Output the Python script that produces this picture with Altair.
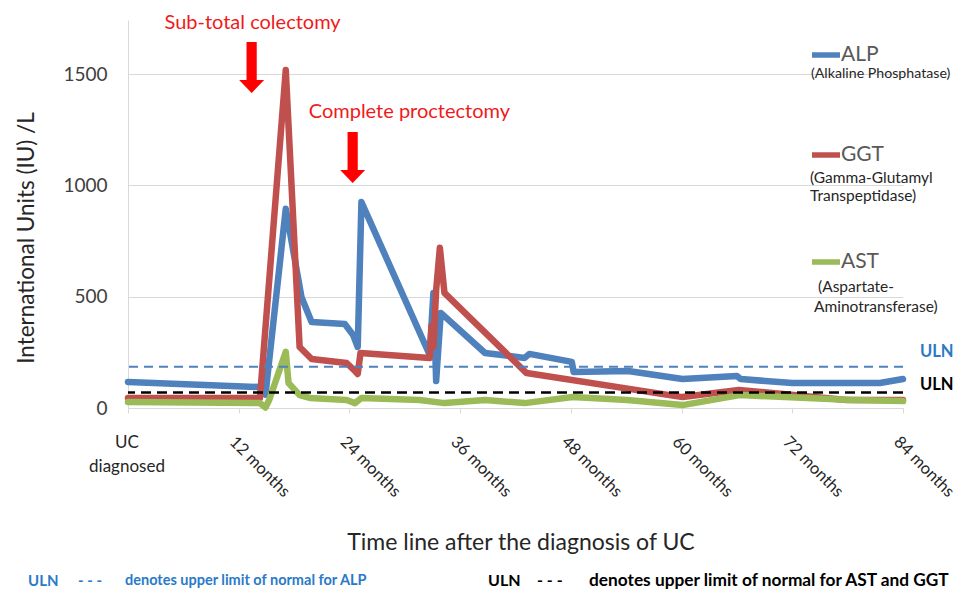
import altair as alt
import pandas as pd

# ---------------- data ----------------
alp_months = [0, 14.3, 14.9, 17.1, 18.8, 19.9, 23.5, 24.4, 24.9, 25.3, 32.7, 33.1, 33.4, 33.9,
              38.7, 43.0, 43.5, 48.1, 48.3, 54.2, 60.1, 66.0, 66.4, 72.0, 81.5, 84]
alp_values = [117, 94, 60, 895, 499, 386, 377, 328, 274, 925, 238, 517, 121, 427,
              247, 225, 243, 207, 162, 166, 130, 144, 130, 112, 112, 130]

ggt_months = [0, 14.3, 17.1, 18.6, 19.9, 23.7, 24.7, 24.9, 25.2, 32.7, 32.9, 33.1, 33.4, 33.8,
              34.3, 43.2, 60.1, 66.2, 77.9, 84]
ggt_values = [45, 45, 1518, 274, 220, 202, 162, 153, 247, 225, 368, 274, 530, 720,
              517, 157, 49, 81, 36, 36]

ast_months = [0, 14.3, 14.9, 15.3, 17.1, 17.4, 18.6, 19.7, 23.7, 24.6, 25.3, 31.6, 34.3,
              38.7, 43.0, 48.2, 54.1, 60.1, 66.3, 78.5, 84]
ast_values = [27, 22, 2, 36, 252, 112, 58, 45, 36, 22, 45, 36, 22,
              36, 22, 49, 36, 13, 58, 36, 31]

uln_alp = 185
uln_ast_ggt = 70

x_tick_months = [0, 12, 24, 36, 48, 60, 72, 84]
x_first_label = ["UC", "diagnosed"]
y_ticks = [0, 500, 1000, 1500]

surgery_months = [13.4, 24.35]
surgery_labels = ["Sub-total colectomy", "Complete proctectomy"]
surgery_label_months = [13.5, 30.5]

series_names = ["ALP", "GGT", "AST"]
series_full = [["(Alkaline Phosphatase)"],
               ["(Gamma-Glutamyl", "Transpeptidase)"],
               ["(Aspartate-", "Aminotransferase)"]]
series_colors = ["#4F81BD", "#C0504D", "#9BBB59"]

# ---------------- layout ----------------
W, H = 775, 388
YMAX = 1743
FONT = "Lato"
RED = "#f01a1a"
ULN_BLUE = "#2a7ac8"

xs = alt.Scale(domain=[0, 84], nice=False, zero=False)
ys = alt.Scale(domain=[0, YMAX], nice=False, zero=True)

x_axis = alt.Axis(values=x_tick_months,
                  labelExpr="datum.value == 0 ? '' : datum.value + ' months'",
                  labelAngle=45, labelAlign="left", labelBaseline="middle",
                  labelFont=FONT, labelFontSize=16.5, labelColor="#262626",
                  labelPadding=26, labelOffset=-7, tickSize=5, tickColor="#d9d9d9",
                  domainColor="#d9d9d9", grid=False, title=None, labelOverlap=False)
y_axis = alt.Axis(values=y_ticks, format="d", labelFont=FONT, labelFontSize=19,
                  labelColor="#404040", labelPadding=21, ticks=False,
                  domainColor="#d9d9d9", gridColor="#d9d9d9", grid=True, title=None)


def line(months, values, color):
    df = pd.DataFrame({"month": months, "value": values, "i": list(range(len(months)))})
    return alt.Chart(df).mark_line(color=color, strokeWidth=6.5, strokeCap="round",
                                   strokeJoin="round").encode(
        x=alt.X("month:Q", scale=xs, axis=x_axis),
        y=alt.Y("value:Q", scale=ys, axis=y_axis),
        order="i:Q")


def uln_rule(val, color, dash, width):
    return alt.Chart(pd.DataFrame({"v": [val]})).mark_rule(
        color=color, strokeDash=dash, strokeWidth=width).encode(
        y=alt.Y("v:Q", scale=ys, axis=y_axis))


def ptext(txt, x, y, size, color="#404040", weight="normal", align="left", angle=0):
    return alt.Chart(pd.DataFrame({"t": [txt]})).mark_text(
        font=FONT, fontSize=size, color=color, fontWeight=weight, align=align,
        baseline="middle", angle=angle).encode(
        x=alt.value(x), y=alt.value(y), text="t:N")


def prule(x1, x2, y, color, width):
    return alt.Chart(pd.DataFrame({"a": [0]})).mark_rule(
        color=color, strokeWidth=width, strokeCap="butt").encode(
        x=alt.value(x1), x2=alt.value(x2), y=alt.value(y))


layers = [
    line(alp_months, alp_values, series_colors[0]),
    line(ggt_months, ggt_values, series_colors[1]),
    line(ast_months, ast_values, series_colors[2]),
    uln_rule(uln_alp, "#4F81BD", [9, 6], 2),
    uln_rule(uln_ast_ggt, "#000000", [10, 6], 2.5),
]

# surgery arrows and labels
ARROW = "M-0.2,-1L0.2,-1L0.2,0.49L0.49,0.49L0,1L-0.49,0.49L-0.2,0.49Z"
arrow_y = [47.5, 137.5]
label_y = [3, 92]
for m, lm, lab, ay, ly in zip(surgery_months, surgery_label_months, surgery_labels, arrow_y, label_y):
    layers.append(alt.Chart(pd.DataFrame({"m": [m]})).mark_point(
        shape=ARROW, size=2601, filled=True, color="#ff0000", opacity=1, strokeWidth=0).encode(
        x=alt.X("m:Q", scale=xs, axis=x_axis), y=alt.value(ay)))
    layers.append(alt.Chart(pd.DataFrame({"m": [lm], "t": [lab]})).mark_text(
        font=FONT, fontSize=20, color=RED, align="center", baseline="middle").encode(
        x=alt.X("m:Q", scale=xs, axis=x_axis), y=alt.value(ly), text="t:N"))

# legend (custom, right side)
leg_y = [35, 135, 242]
sub_y = [[54], [158, 176], [267, 287]]
sub_x = [[683], [682, 682], [690, 686]]
sub_size = [[14.2], [15.5, 15.5], [15.5, 15.5]]
for name, col, ly, subs, sys_, sxs, szs in zip(series_names, series_colors, leg_y, series_full,
                                               sub_y, sub_x, sub_size):
    layers.append(prule(684, 712, ly, col, 5.5))
    layers.append(ptext(name, 713, ly, 21, color="#595959"))
    for s, sy, sx, sz in zip(subs, sys_, sxs, szs):
        layers.append(ptext(s, sx, sy, sz, color="#262626"))

# ULN labels at right
layers.append(ptext("ULN", 792, 332, 16.5, color=ULN_BLUE, weight="bold"))
layers.append(ptext("ULN", 792, 365, 16.5, color="#000000", weight="bold"))

# first x label
layers.append(ptext(x_first_label[0], -1, 423, 17, color="#262626", align="center"))
layers.append(ptext(x_first_label[1], -1, 447, 17, color="#262626", align="center"))

# axis titles
layers.append(ptext("Time line after the diagnosis of UC", 393, 523, 23, color="#262626", align="center"))
layers.append(ptext("International Units (IU) /L", -101, 218, 22.5, color="#262626", align="center", angle=270))

# bottom notes
NOTE_Y = 561
layers.append(ptext("ULN", -100, NOTE_Y, 15, color=ULN_BLUE, weight="bold"))
layers.append(ptext("-  -  -", -50, NOTE_Y, 15, color=ULN_BLUE, weight="bold"))
layers.append(ptext("denotes upper limit of normal for ALP", -3, NOTE_Y, 14.5, color=ULN_BLUE, weight="bold"))
layers.append(ptext("ULN", 360, NOTE_Y, 16, color="#000000", weight="bold"))
layers.append(ptext("-  -  -", 409, NOTE_Y, 16, color="#000000", weight="bold"))
layers.append(ptext("denotes upper limit of normal for AST and GGT", 461, NOTE_Y, 17.3, color="#000000", weight="bold"))

chart = alt.layer(*layers).properties(
    width=W, height=H,
    autosize=alt.AutoSizeParams(type="none"),
    padding={"left": 120, "top": 12, "right": 57, "bottom": 182},
    background="white",
).configure_view(stroke=None)

chart.save("out.html", embed_options={"renderer": "svg", "actions": False})
